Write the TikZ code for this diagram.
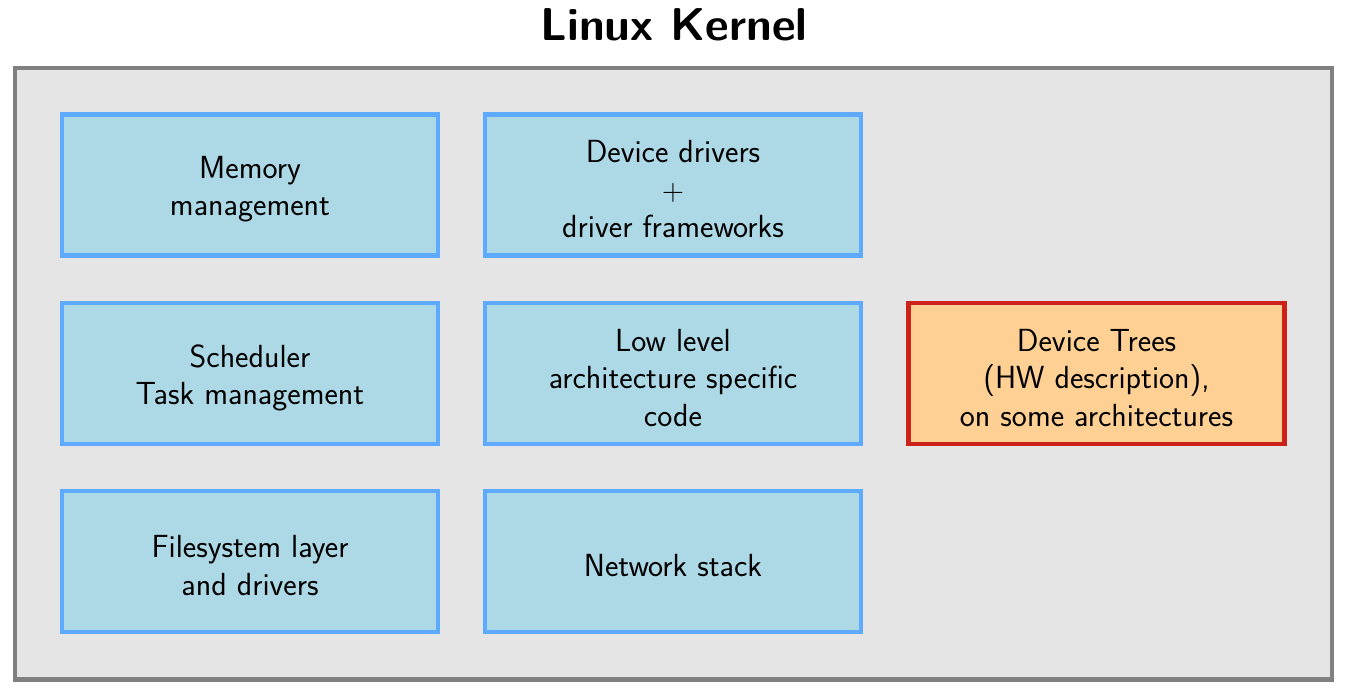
\documentclass[tikz,border=0pt]{standalone}
\definecolor{outerfill}{RGB}{229,229,229}
\definecolor{outerdraw}{RGB}{128,128,128}
\definecolor{bluedraw}{RGB}{94,170,255}
\definecolor{bluefill}{RGB}{173,216,230}
\definecolor{reddraw}{RGB}{204,34,26}
\definecolor{redfill}{RGB}{255,208,148}
\begin{document}
\begin{tikzpicture}[x=0.02cm,y=-0.02cm,
  lbl/.style={yshift=-0.085cm,align=center,inner sep=0pt,font=\sffamily\fontsize{18.2}{21.4}\selectfont},
  blk/.style={draw=bluedraw,fill=bluefill,line width=2.5pt,minimum width=7.52cm,minimum height=2.82cm,
    inner sep=0pt,label={[lbl]center:{#1}}},
  dtblk/.style={blk={#1},draw=reddraw,fill=redfill}]
\useasboundingbox (0,0) rectangle (1349,694);
\node[draw=outerdraw,fill=outerfill,line width=2.6pt,minimum width=26.34cm,minimum height=12.23cm,inner sep=0pt] (kernel) at (673.5,373.7) {};
\node[font=\sffamily\bfseries\fontsize{26.2}{30}\selectfont,anchor=base] (title) at (674,40.7) {Linux Kernel};
\node[blk={Memory\\management}] (mem) at (250,185) {};
\node[blk={Device drivers\\$+$\\driver frameworks}] (dd) at (673,185) {};
\node[blk={Scheduler\\Task management}] (sch) at (250,373.5) {};
\node[blk={Low level\\architecture specific\\code}] (ll) at (673,373.5) {};
\node[dtblk={Device Trees\\(HW description),\\on some architectures}] (dt) at (1096.5,373.5) {};
\node[blk={Filesystem layer\\and drivers}] (fs) at (250,561.5) {};
\node[blk={Network stack}] (net) at (673,561.5) {};
\end{tikzpicture}
\end{document}
